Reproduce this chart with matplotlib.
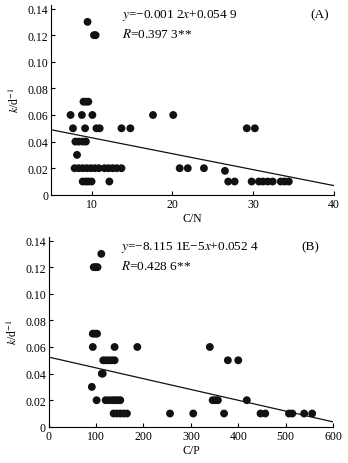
import matplotlib
matplotlib.use("Agg")
import matplotlib.pyplot as plt
import numpy as np

plt.rcParams['font.family'] = ['Liberation Serif', 'DejaVu Serif']
plt.rcParams['mathtext.fontset'] = 'stix'

# panel A: k vs C/N
cn_x = [9.5, 10.3, 10.5,
        9.0, 9.3, 9.6,
        7.4, 8.8, 10.1, 17.6, 20.1,
        7.7, 9.2, 10.6, 11.0, 13.7, 14.8, 29.2, 30.2,
        8.0, 8.4, 8.9, 9.3,
        8.2,
        7.9, 8.4, 8.9, 9.4, 9.9, 10.4, 10.9, 11.6, 12.1, 12.6, 13.1, 13.7, 20.9, 21.9, 23.9,
        26.5,
        8.9, 9.3, 9.6, 10.0, 12.2, 26.9, 27.7, 29.8, 30.7, 31.2, 31.8, 32.4, 33.4, 33.9, 34.4]
cn_k = [0.13, 0.12, 0.12,
        0.07, 0.07, 0.07,
        0.06, 0.06, 0.06, 0.06, 0.06,
        0.05, 0.05, 0.05, 0.05, 0.05, 0.05, 0.05, 0.05,
        0.04, 0.04, 0.04, 0.04,
        0.03,
        0.02, 0.02, 0.02, 0.02, 0.02, 0.02, 0.02, 0.02, 0.02, 0.02, 0.02, 0.02, 0.02, 0.02, 0.02,
        0.018,
        0.01, 0.01, 0.01, 0.01, 0.01, 0.01, 0.01, 0.01, 0.01, 0.01, 0.01, 0.01, 0.01, 0.01, 0.01]

# panel B: k vs C/P
cp_x = [111, 95, 99, 103,
        93, 98, 102,
        93, 139, 187, 340,
        115, 121, 127, 133, 139, 378, 400,
        112, 114,
        91,
        101, 120, 127, 134, 140, 146, 151, 346, 352, 357, 418,
        137, 144, 151, 158, 165, 256, 305, 370, 447, 457, 507, 514, 539, 556]
cp_k = [0.13, 0.12, 0.12, 0.12,
        0.07, 0.07, 0.07,
        0.06, 0.06, 0.06, 0.06,
        0.05, 0.05, 0.05, 0.05, 0.05, 0.05, 0.05,
        0.04, 0.04,
        0.03,
        0.02, 0.02, 0.02, 0.02, 0.02, 0.02, 0.02, 0.02, 0.02, 0.02, 0.02,
        0.01, 0.01, 0.01, 0.01, 0.01, 0.01, 0.01, 0.01, 0.01, 0.01, 0.01, 0.01, 0.01, 0.01]

# fitted lines
fit_a = (-0.0012, 0.0549)
fit_b = (-8.1151e-5, 0.0524)

yticks = [0, 0.02, 0.04, 0.06, 0.08, 0.10, 0.12, 0.14]
ytick_labels = ['0', '0.02', '0.04', '0.06', '0.08', '0.10', '0.12', '0.14']

fig = plt.figure(figsize=(3.48, 4.64), dpi=100)
ax1 = fig.add_axes([0.147, 0.578, 0.813, 0.41])
ax2 = fig.add_axes([0.140, 0.078, 0.817, 0.41])


def style(ax, xlim, xticks, xlabel):
    ax.set_xlim(*xlim)
    ax.set_ylim(0, 0.143)
    ax.set_xticks(xticks)
    ax.set_yticks(yticks)
    ax.set_yticklabels(ytick_labels)
    for s in ['top', 'right']:
        ax.spines[s].set_visible(False)
    for s in ['left', 'bottom']:
        ax.spines[s].set_linewidth(0.8)
    ax.tick_params(direction='in', length=3, width=0.8, labelsize=8.5, pad=2)
    ax.set_xlabel(xlabel, fontsize=8.5, labelpad=2)
    ax.set_ylabel(r'$k$/d$^{-1}$', fontsize=8.5, labelpad=4)


ax1.scatter(cn_x, cn_k, s=32, color='#111111', edgecolors='none', zorder=3)
xs = np.array([5, 40])
ax1.plot(xs, fit_a[0] * xs + fit_a[1], color='#111111', lw=0.9)
style(ax1, (5, 40), [10, 20, 30, 40], 'C/N')
ax1.text(0.25, 0.95, '$y$=\u22120.001 2$x$+0.054 9', transform=ax1.transAxes, fontsize=9.5, va='center')
ax1.text(0.25, 0.85, '$R$=0.397 3**', transform=ax1.transAxes, fontsize=9.5, va='center')
ax1.text(0.95, 0.95, '(A)', transform=ax1.transAxes, fontsize=9.5, va='center', ha='center')

ax2.scatter(cp_x, cp_k, s=32, color='#111111', edgecolors='none', zorder=3)
xs = np.array([0, 600])
ax2.plot(xs, fit_b[0] * xs + fit_b[1], color='#111111', lw=0.9)
style(ax2, (0, 600), [0, 100, 200, 300, 400, 500, 600], 'C/P')
ax2.text(0.255, 0.95, '$y$=\u22128.115 1E\u22125$x$+0.052 4', transform=ax2.transAxes, fontsize=9.5, va='center')
ax2.text(0.255, 0.85, '$R$=0.428 6**', transform=ax2.transAxes, fontsize=9.5, va='center')
ax2.text(0.92, 0.95, '(B)', transform=ax2.transAxes, fontsize=9.5, va='center', ha='center')

plt.savefig('out.png', dpi=100)
